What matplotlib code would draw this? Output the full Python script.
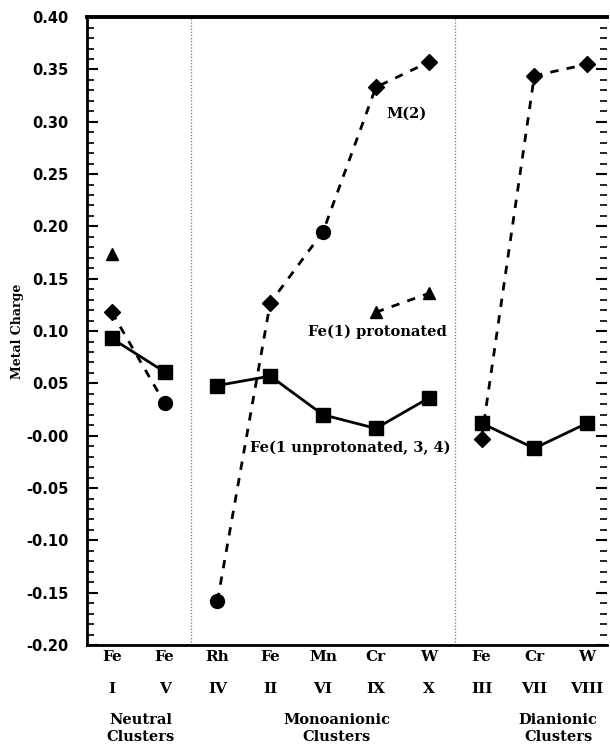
import matplotlib.pyplot as plt
import matplotlib.transforms as mtransforms
import numpy as np

# cluster labels (metal, roman numeral)
metals = ["Fe", "Fe", "Rh", "Fe", "Mn", "Cr", "W", "Fe", "Cr", "W"]
numerals = ["I", "V", "IV", "II", "VI", "IX", "X", "III", "VII", "VIII"]
groups = ["Neutral\nClusters", "Monoanionic\nClusters", "Dianionic\nClusters"]

# Fe(1 unprotonated, 3, 4) -- squares, every cluster
fe_unprot = [0.093, 0.061, 0.048, 0.057, 0.020, 0.007, 0.036, 0.012, -0.012, 0.012]
# M(2) -- circles for some, diamonds for others
m2 = [0.118, 0.031, -0.158, 0.127, 0.195, 0.333, 0.357, -0.003, 0.344, 0.355]
m2_marker = ["D", "o", "o", "D", "o", "D", "D", "D", "D", "D"]
# Fe(1) protonated -- triangles (only some clusters)
prot_idx = [0, 5, 6]
prot_val = [0.174, 0.118, 0.136]

# segments that are joined by lines (index ranges inside each group)
segments = [(0, 2), (2, 7), (7, 10)]

x = np.arange(len(metals))

fig = plt.figure(figsize=(6.10, 7.44), dpi=100)
ax = fig.add_axes([0.1426, 0.133, 0.8524, 0.844])

serif = "DejaVu Serif"

for a, b in segments:
    ax.plot(x[a:b], fe_unprot[a:b], color="black", lw=2, zorder=3)
    ax.plot(x[a:b], m2[a:b], color="black", lw=2, ls=(0, (3, 3)), zorder=2)
ax.plot(x, fe_unprot, ls="none", marker="s", ms=10, color="black", zorder=4)
for xi, yi, mk in zip(x, m2, m2_marker):
    ms = 10 if mk == "o" else 8.5
    ax.plot(xi, yi, ls="none", marker=mk, ms=ms, color="black", zorder=4)

ax.plot(x[prot_idx[1:]], prot_val[1:], color="black", lw=2, ls=(0, (3, 3)), zorder=2)
ax.plot(x[prot_idx], prot_val, ls="none", marker="^", ms=9, color="black", zorder=4)

# separators between cluster charge groups
for xs in [1.5, 6.5]:
    ax.axvline(xs, color="#777777", lw=0.9, ls=(0, (1, 1.5)), zorder=1)

ax.text(5.57, 0.308, "M(2)", family=serif, fontweight="bold", fontsize=10.5,
        ha="center", va="center")
ax.text(5.03, 0.099, "Fe(1) protonated", family=serif, fontweight="bold",
        fontsize=10.5, ha="center", va="center")
ax.text(4.51, -0.012, "Fe(1 unprotonated, 3, 4)", family=serif,
        fontweight="bold", fontsize=10.5, ha="center", va="center")

ax.set_xlim(-0.47, 9.375)
ax.set_ylim(-0.20, 0.40)
ax.set_yticks(np.arange(-0.20, 0.401, 0.05))
ax.set_yticks(np.arange(-0.20, 0.401, 0.01), minor=True)
ax.set_yticklabels([f"{v:.2f}" for v in np.arange(-0.20, 0.401, 0.05)],
                   fontweight="bold", fontsize=10.5)
ax.tick_params(axis="y", which="both", direction="in", right=True, pad=13)
ax.tick_params(axis="y", which="major", length=8, width=1.5)
ax.tick_params(axis="y", which="minor", length=5, width=1.2)
ax.set_xticks([])

ax.spines["right"].set_visible(False)
ax.spines["left"].set_linewidth(2)
ax.spines["bottom"].set_linewidth(2)
ax.spines["top"].set_linewidth(2.8)

trans = mtransforms.blended_transform_factory(ax.transData, ax.transAxes)
for xi, m, n in zip(x, metals, numerals):
    ax.text(xi, -0.019, m, transform=trans, family=serif, fontweight="bold",
            fontsize=11, ha="center", va="center")
    ax.text(xi, -0.070, n, transform=trans, family=serif, fontweight="bold",
            fontsize=11, ha="center", va="center")
for gx, g in zip([0.55, 4.26, 8.45], groups):
    ax.text(gx, -0.133, g, transform=trans, family=serif, fontweight="bold",
            fontsize=10.5, ha="center", va="center", linespacing=1.3)

ax.set_ylabel("Metal Charge", family=serif, fontweight="bold", fontsize=9,
              labelpad=2)

fig.savefig("out.png", dpi=100)
